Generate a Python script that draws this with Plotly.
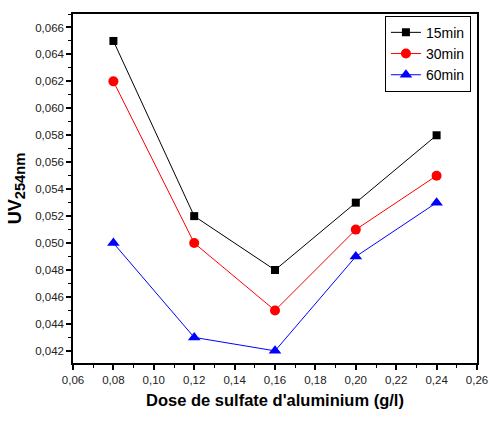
import plotly.graph_objects as go

dose = [0.08, 0.12, 0.16, 0.20, 0.24]
uv_15min = [0.065, 0.052, 0.048, 0.053, 0.058]
uv_30min = [0.062, 0.050, 0.045, 0.051, 0.055]
uv_60min = [0.050, 0.043, 0.042, 0.049, 0.053]

series = [
    ("15min", uv_15min, "black", "square", 8),
    ("30min", uv_30min, "red", "circle", 10),
    ("60min", uv_60min, "blue", "triangle-up", 11),
]

X_RANGE = [0.06, 0.26]
Y_RANGE = [0.0411, 0.067]
FONT = "Liberation Sans, Arial"

fig = go.Figure()
for name, vals, color, symbol, msize in series:
    fig.add_trace(go.Scatter(
        x=dose, y=vals, name=name, mode="lines+markers",
        line=dict(color=color, width=1),
        marker=dict(symbol=symbol, size=msize, color=color),
    ))

axis_common = dict(
    showline=True, linecolor="black", linewidth=1.5, mirror=True,
    ticks="outside", ticklen=5, tickwidth=1.5, tickcolor="black",
    showgrid=False, zeroline=False, automargin=False,
    tickfont=dict(family=FONT, size=11.5, color="#222"),
)

# tick-only companion axes on top and right, ticks pointing inward
mirror_common = dict(
    showline=False, showgrid=False, zeroline=False, showticklabels=False,
    ticks="inside", ticklen=4, tickwidth=1, tickcolor="black",
)

fig.update_layout(
    width=489, height=424,
    margin=dict(l=73, r=12, t=14, b=61),
    plot_bgcolor="white", paper_bgcolor="white",
    separators=", ",
    xaxis=dict(
        range=X_RANGE, dtick=0.02, tickformat=".2f",
        minor=dict(ticks="outside", ticklen=3, tickwidth=1, dtick=0.01, tickcolor="black"),
        title=dict(text="<b>Dose de sulfate d'aluminium (g/l)</b>",
                   font=dict(family=FONT, size=16.5, color="black"),
                   standoff=10),
        **axis_common,
    ),
    yaxis=dict(
        range=Y_RANGE, dtick=0.002, tick0=0.042, tickformat=".3f",
        minor=dict(ticks="outside", ticklen=3, tickwidth=1, dtick=0.001, tickcolor="black"),
        title=dict(text="<b><span style='font-size:18px'>UV</span><sub>254nm</sub></b>",
                   font=dict(family=FONT, size=21, color="black"),
                   standoff=8),
        **axis_common,
    ),
    xaxis2=dict(overlaying="x", side="top", range=X_RANGE, dtick=0.02, **mirror_common),
    yaxis2=dict(overlaying="y", side="right", range=Y_RANGE, dtick=0.002, tick0=0.042,
                **mirror_common),
    legend=dict(
        x=0.985, y=0.995, xanchor="right", yanchor="top",
        bordercolor="black", borderwidth=1, bgcolor="white",
        font=dict(family=FONT, size=14, color="black"),
        tracegroupgap=0, itemwidth=30,
    ),
)

fig.write_html("out.html")
